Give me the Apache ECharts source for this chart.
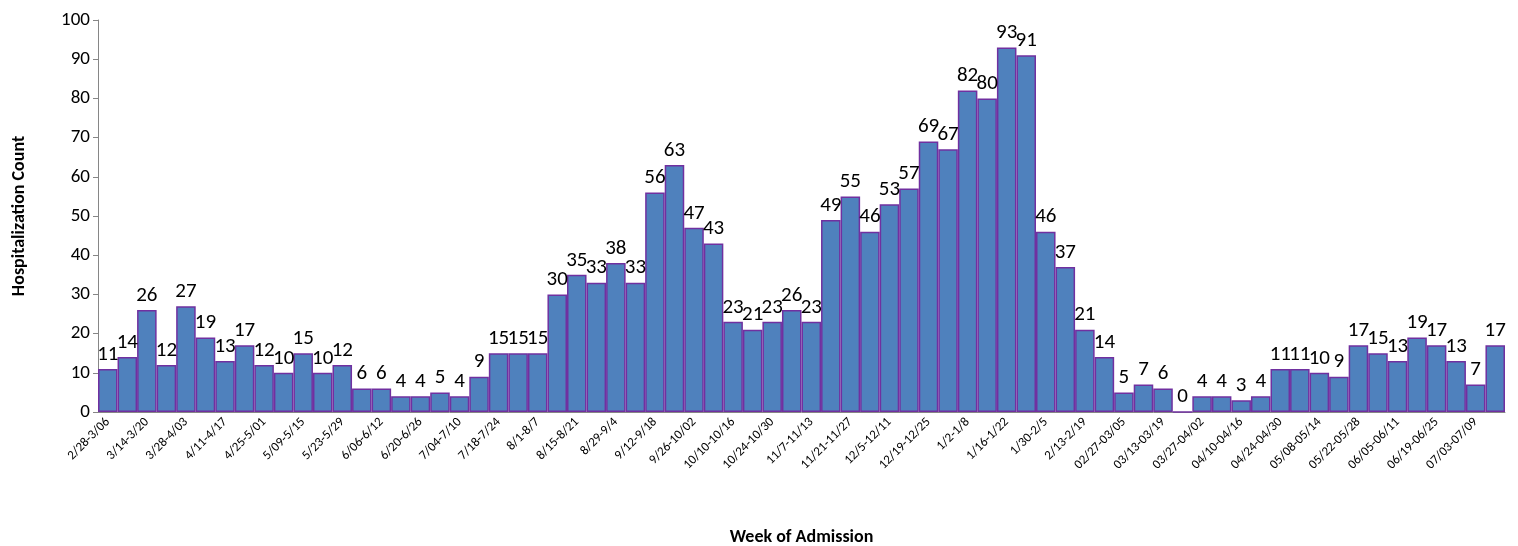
<!DOCTYPE html>
<html>
<head>
<meta charset="utf-8">
<title>Hospitalization Count</title>
<script src="https://cdn.jsdelivr.net/npm/echarts@6/dist/echarts.min.js"></script>
</head>
<body style="margin:0">
<div id="main" style="width:1518px;height:546px;"></div>
<script>
var weeks = ['2/28-3/06','3/07-3/13','3/14-3/20','3/21-3/27','3/28-4/03','4/04-4/10','4/11-4/17','4/18-4/24',
  '4/25-5/01','5/02-5/08','5/09-5/15','5/16-5/22','5/23-5/29','5/30-6/05','6/06-6/12','6/13-6/19',
  '6/20-6/26','6/27-7/03','7/04-7/10','7/11-7/17','7/18-7/24','7/25-7/31','8/1-8/7','8/8-8/14',
  '8/15-8/21','8/22-8/28','8/29-9/4','9/5-9/11','9/12-9/18','9/19-9/25','9/26-10/02','10/03-10/09',
  '10/10-10/16','10/17-10/23','10/24-10/30','10/31-11/6','11/7-11/13','11/14-11/20','11/21-11/27','11/28-12/4',
  '12/5-12/11','12/12-12/18','12/19-12/25','12/26-1/1','1/2-1/8','1/9-1/15','1/16-1/22','1/23-1/29',
  '1/30-2/5','2/6-2/12','2/13-2/19','2/20-2/26','02/27-03/05','03/06-03/12','03/13-03/19','03/20-03/26',
  '03/27-04/02','04/03-04/09','04/10-04/16','04/17-04/23','04/24-04/30','05/01-05/07','05/08-05/14','05/15-05/21',
  '05/22-05/28','05/29-06/04','06/05-06/11','06/12-06/18','06/19-06/25','06/26-07/02','07/03-07/09','07/10-07/16'];
var counts = [11,14,26,12,27,19,13,17,12,10,15,10,12,6,6,4,4,5,4,9,
  15,15,15,30,35,33,38,33,56,63,47,43,23,21,23,26,23,49,55,46,
  53,57,69,67,82,80,93,91,46,37,21,14,5,7,6,0,4,4,3,4,
  11,11,10,9,17,15,13,19,17,13,7,17];

var myChart = echarts.init(document.getElementById('main'));
var font = 'Calibri, Carlito, "Open Sans", sans-serif';
option = {
  animation: false,
  grid: {left: 98, right: 13, top: 20, bottom: 134, outerBoundsMode: 'none'},
  xAxis: {
    type: 'category', data: weeks,
    name: 'Week of Admission', nameLocation: 'middle', nameGap: 116,
    nameTextStyle: {fontFamily: font, fontWeight: 'bold', fontSize: 18, color: '#000'},
    axisLine: {lineStyle: {color: '#868686'}},
    axisTick: {interval: 0, lineStyle: {color: '#868686'}},
    axisLabel: {interval: 1, rotate: 45, fontFamily: font, fontSize: 13, color: '#000', margin: 8}
  },
  yAxis: {
    type: 'value', min: 0, max: 100, interval: 10,
    name: 'Hospitalization Count', nameLocation: 'middle', nameGap: 70,
    nameTextStyle: {fontFamily: font, fontWeight: 'bold', fontSize: 18, color: '#000'},
    splitLine: {show: false},
    axisLine: {show: true, lineStyle: {color: '#868686'}},
    axisTick: {show: true, lineStyle: {color: '#868686'}},
    axisLabel: {fontFamily: font, fontSize: 19, color: '#000'}
  },
  series: [{
    type: 'bar', data: counts, barCategoryGap: '0%',
    itemStyle: {color: '#4F81BD', borderColor: '#7030A0', borderWidth: 1.5},
    label: {show: true, position: 'top', fontFamily: font, fontSize: 21, color: '#000', distance: 4}
  }]
};
myChart.setOption(option);
</script>
</body>
</html>
